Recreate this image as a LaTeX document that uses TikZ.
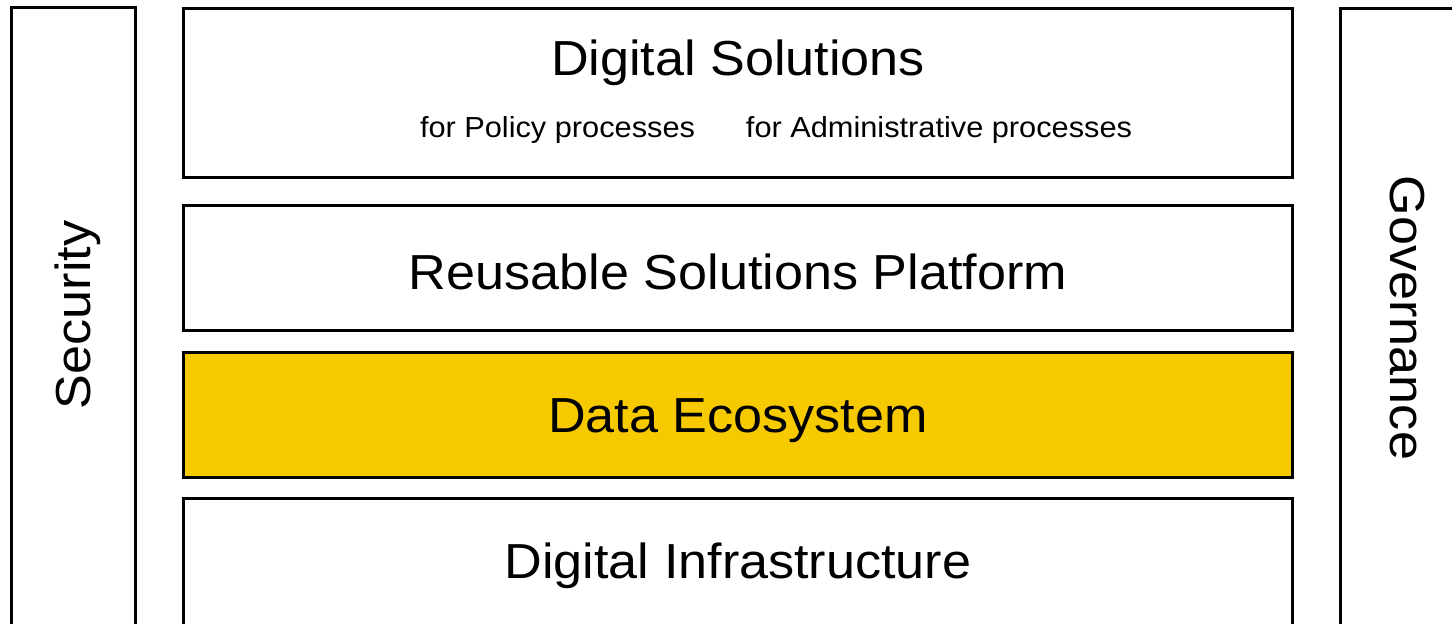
\documentclass[tikz,border=0pt]{standalone}
\usepackage{fontspec}
\setmainfont{Liberation Sans}[FakeStretch=1.06]
\usetikzlibrary{positioning}
\definecolor{ecoyellow}{RGB}{247,202,0}
\newcommand\mx{14.76}

\begin{document}
\begin{tikzpicture}[layer/.style={rectangle, draw, line width=1.7pt, minimum width=22.18cm, inner sep=0pt},
    pillar/.style={rectangle, draw, line width=1.7pt, minimum width=2.48cm, minimum height=13cm, inner sep=0pt},
    big/.style={font=\fontsize{28}{32}\selectfont, anchor=base, inner sep=0pt},
    small/.style={font=\fontsize{16.5}{20}\selectfont, anchor=base, inner sep=0pt}]

    \clip (0, 0) rectangle (29.04, 12.46);

    % Side pillars
    \node at (1.47, 5.81) [pillar] (sec) {};
    \node at (28.05, 5.79) [pillar] (gov) {};
    \node at (1.80, 6.16) [big, rotate=90] (sectext) {Security};
    \node at (27.80, 6.10) [big, rotate=-90] (govtext) {Governance};

    % Layers
    \node at (\mx, 10.60) [layer, minimum height=3.38cm] (sol) {};
    \node at (\mx, 7.10) [layer, minimum height=2.5cm] (rsp) {};
    \node at (\mx, 4.16) [layer, minimum height=2.5cm, fill=ecoyellow] (eco) {};
    \node at (\mx, 0.99) [layer, minimum height=3cm] (infra) {};

    \node at (\mx, 10.94) [big] (soltext) {Digital Solutions};
    \node at (11.15, 9.70) [small] (policy) {for Policy processes};
    \node at (18.78, 9.70) [small] (admin) {for Administrative processes};
    \node at (\mx, 6.68) [big] (rsptext) {Reusable Solutions Platform};
    \node at (\mx, 3.82) [big] (ecotext) {Data Ecosystem};
    \node at (\mx, 0.90) [big] (infratext) {Digital Infrastructure};
\end{tikzpicture}
\end{document}
